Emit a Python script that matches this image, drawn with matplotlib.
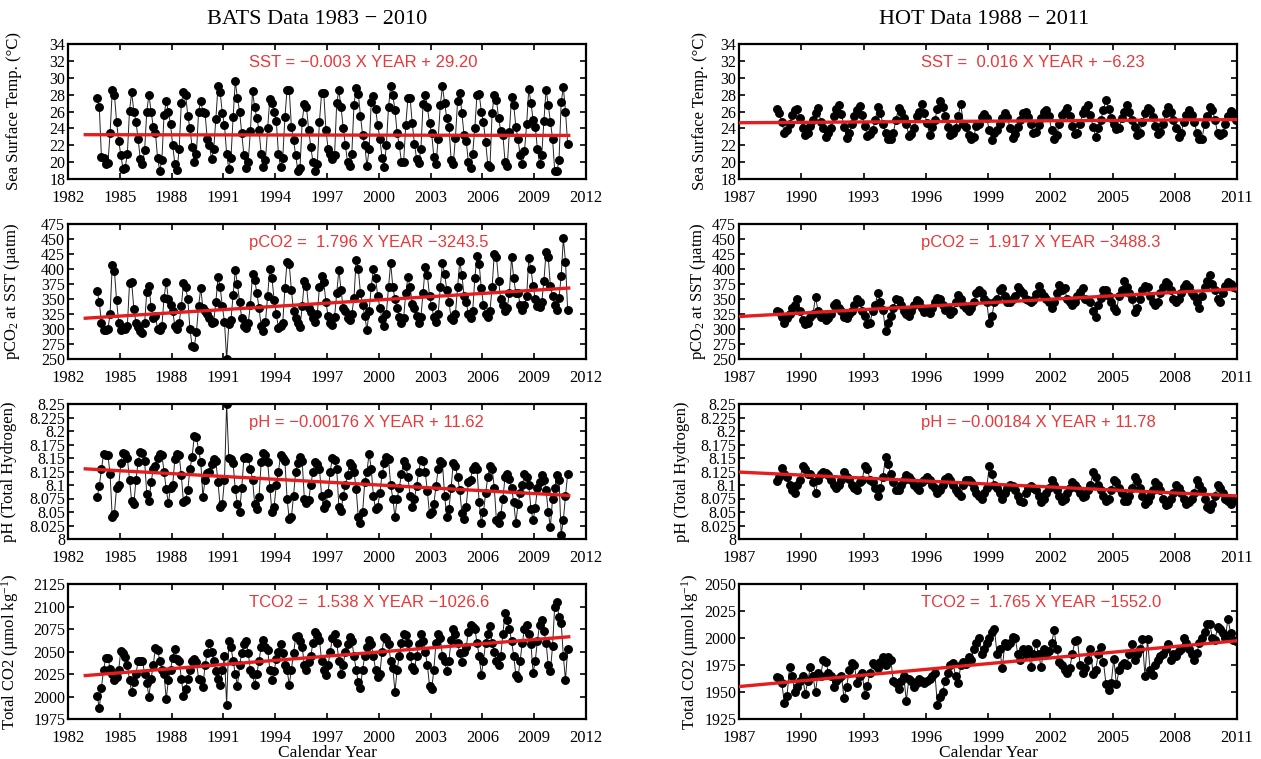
import numpy as np
import matplotlib
matplotlib.use("Agg")
import matplotlib.pyplot as plt
from matplotlib.ticker import MultipleLocator, FixedLocator, FuncFormatter

plt.rcParams['font.family'] = ['Liberation Serif', 'DejaVu Serif']
plt.rcParams['mathtext.fontset'] = 'custom'
plt.rcParams['mathtext.rm'] = 'Liberation Serif'
plt.rcParams['mathtext.it'] = 'Liberation Serif:italic'
plt.rcParams['axes.unicode_minus'] = True

# ---------------- BATS (8 samples per year; first year starts in late summer) ----------------
bats_first_year = 1983
bats_sst = [
    [27.6, 26.5, 20.6],
    [20.5, 19.8, 19.9, 23.4, 28.5, 28.0, 24.8, 22.5],
    [20.8, 19.2, 19.3, 21.0, 26.1, 28.3, 26.0, 24.8],
    [22.7, 20.4, 19.8, 21.4, 26.0, 28.0, 26.0, 24.2],
    [23.5, 20.5, 19.0, 20.3, 25.6, 27.2, 26.0, 24.5],
    [22.0, 19.8, 19.1, 21.5, 27.0, 28.3, 28.0, 25.5],
    [24.0, 21.8, 20.0, 21.0, 26.0, 27.2, 26.0, 25.8],
    [22.8, 22.0, 20.4, 21.5, 25.1, 29.0, 28.3, 25.8],
    [24.4, 21.0, 19.2, 20.5, 25.3, 29.6, 27.6, 26.0],
    [23.4, 20.8, 19.3, 20.0, 23.7, 28.4, 26.5, 25.2],
    [23.8, 21.0, 19.4, 20.3, 24.0, 27.5, 27.0, 26.0],
    [24.9, 21.0, 19.4, 20.5, 25.3, 28.6, 28.6, 24.2],
    [22.6, 20.8, 19.0, 19.3, 24.8, 26.9, 26.5, 23.8],
    [21.8, 20.0, 19.0, 19.8, 24.8, 28.2, 28.2, 23.8],
    [21.6, 21.0, 20.4, 20.8, 27.0, 28.5, 26.5, 24.1],
    [22.0, 20.0, 19.5, 21.0, 26.8, 28.8, 28.1, 25.5],
    [23.2, 22.0, 19.5, 21.5, 27.1, 27.8, 26.3, 24.4],
    [22.8, 20.5, 19.4, 22.0, 26.5, 29.0, 27.9, 26.2],
    [23.4, 22.0, 20.0, 20.0, 24.4, 27.6, 27.6, 24.6],
    [22.2, 20.4, 19.9, 21.5, 26.9, 28.0, 26.5, 24.6],
    [23.4, 20.6, 19.8, 22.7, 26.8, 29.0, 27.0, 25.2],
    [24.2, 20.3, 19.8, 22.9, 27.2, 28.2, 25.8, 23.2],
    [22.5, 20.0, 19.3, 21.0, 24.1, 28.0, 28.1, 26.0],
    [24.7, 22.4, 19.7, 19.4, 25.8, 28.0, 27.4, 25.2],
    [23.7, 23.2, 20.0, 19.5, 23.6, 27.7, 26.8, 24.2],
    [22.7, 20.8, 19.8, 21.3, 24.5, 28.7, 27.0, 25.0],
    [24.2, 21.5, 19.8, 20.9, 24.9, 28.6, 26.8, 24.8],
    [22.8, 19.0, 18.9, 20.2, 27.1, 28.9, 26.0, 22.2],
]
bats_pco2 = [
    [363, 345, 310],
    [299, 298, 300, 325, 407, 397, 348, 310],
    [298, 302, 300, 305, 376, 378, 334, 310],
    [303, 297, 293, 310, 362, 372, 337, 318],
    [322, 300, 298, 305, 352, 379, 350, 340],
    [330, 305, 300, 310, 338, 376, 370, 350],
    [300, 272, 270, 295, 338, 368, 335, 330],
    [325, 318, 310, 312, 345, 386, 370, 338],
    [312, 250, 308, 315, 356, 398, 375, 345],
    [318, 305, 302, 310, 340, 392, 382, 360],
    [335, 305, 296, 312, 355, 400, 385, 348],
    [325, 302, 305, 310, 368, 412, 408, 365],
    [330, 318, 310, 303, 338, 380, 372, 335],
    [328, 318, 312, 325, 370, 388, 378, 345],
    [322, 310, 306, 320, 360, 399, 365, 335],
    [330, 318, 315, 325, 352, 415, 400, 360],
    [340, 322, 298, 330, 370, 400, 385, 355],
    [335, 316, 305, 325, 370, 410, 370, 350],
    [335, 320, 310, 318, 360, 386, 370, 342],
    [335, 322, 310, 320, 360, 403, 390, 355],
    [338, 320, 312, 325, 370, 410, 392, 365],
    [345, 318, 315, 325, 370, 413, 390, 355],
    [345, 325, 318, 330, 385, 422, 408, 368],
    [340, 325, 320, 330, 370, 425, 420, 380],
    [350, 340, 330, 335, 360, 420, 385, 360],
    [360, 340, 332, 340, 355, 418, 400, 372],
    [350, 338, 336, 345, 380, 429, 420, 372],
    [355, 340, 332, 352, 388, 451, 412, 331],
]
bats_ph = [
    [8.078, 8.098, 8.130],
    [8.157, 8.156, 8.155, 8.120, 8.040, 8.047, 8.095, 8.100],
    [8.140, 8.160, 8.158, 8.150, 8.110, 8.070, 8.065, 8.110],
    [8.143, 8.162, 8.160, 8.145, 8.083, 8.070, 8.105, 8.130],
    [8.135, 8.150, 8.158, 8.155, 8.125, 8.093, 8.066, 8.095],
    [8.100, 8.148, 8.158, 8.155, 8.118, 8.068, 8.072, 8.090],
    [8.130, 8.152, 8.190, 8.188, 8.165, 8.143, 8.078, 8.110],
    [8.122, 8.125, 8.138, 8.148, 8.145, 8.105, 8.060, 8.065],
    [8.110, 8.250, 8.150, 8.148, 8.140, 8.092, 8.065, 8.050],
    [8.095, 8.150, 8.152, 8.150, 8.130, 8.110, 8.065, 8.055],
    [8.078, 8.142, 8.160, 8.155, 8.142, 8.095, 8.050, 8.060],
    [8.100, 8.125, 8.155, 8.150, 8.145, 8.075, 8.037, 8.040],
    [8.080, 8.125, 8.140, 8.152, 8.145, 8.075, 8.066, 8.072],
    [8.100, 8.125, 8.143, 8.138, 8.130, 8.080, 8.058, 8.065],
    [8.085, 8.125, 8.150, 8.146, 8.130, 8.060, 8.052, 8.080],
    [8.100, 8.118, 8.140, 8.135, 8.125, 8.093, 8.040, 8.030],
    [8.050, 8.105, 8.125, 8.158, 8.130, 8.080, 8.055, 8.060],
    [8.085, 8.120, 8.140, 8.152, 8.148, 8.100, 8.075, 8.040],
    [8.075, 8.095, 8.120, 8.145, 8.135, 8.115, 8.080, 8.060],
    [8.075, 8.098, 8.125, 8.147, 8.145, 8.125, 8.088, 8.046],
    [8.050, 8.065, 8.098, 8.130, 8.145, 8.140, 8.080, 8.040],
    [8.055, 8.095, 8.140, 8.135, 8.115, 8.090, 8.048, 8.037],
    [8.060, 8.105, 8.110, 8.130, 8.135, 8.130, 8.068, 8.030],
    [8.050, 8.085, 8.115, 8.135, 8.130, 8.095, 8.035, 8.030],
    [8.045, 8.075, 8.115, 8.120, 8.112, 8.095, 8.068, 8.030],
    [8.065, 8.085, 8.100, 8.120, 8.115, 8.100, 8.055, 8.035],
    [8.058, 8.095, 8.105, 8.118, 8.110, 8.090, 8.050, 8.022],
    [8.075, 8.095, 8.118, 8.110, 8.008, 8.035, 8.080, 8.120],
]
bats_tco2 = [
    [2001, 1987, 2010],
    [2030, 2043, 2043, 2031, 2025, 2018, 2022, 2030],
    [2051, 2048, 2044, 2035, 2018, 2005, 2016, 2025],
    [2040, 2040, 2040, 2025, 2015, 2000, 2020, 2035],
    [2054, 2052, 2040, 2030, 2025, 1997, 2018, 2030],
    [2043, 2053, 2042, 2040, 2020, 2001, 2008, 2020],
    [2030, 2040, 2042, 2038, 2020, 2018, 2011, 2035],
    [2048, 2060, 2050, 2040, 2028, 2020, 2013, 2030],
    [2045, 1991, 2062, 2055, 2040, 2025, 2012, 2035],
    [2048, 2058, 2062, 2048, 2030, 2025, 2013, 2025],
    [2040, 2055, 2063, 2055, 2052, 2030, 2018, 2028],
    [2042, 2050, 2058, 2048, 2035, 2030, 2013, 2030],
    [2048, 2066, 2067, 2062, 2055, 2035, 2030, 2038],
    [2045, 2060, 2072, 2068, 2063, 2040, 2030, 2024],
    [2035, 2050, 2065, 2070, 2060, 2040, 2025, 2035],
    [2050, 2058, 2066, 2062, 2045, 2030, 2016, 2010],
    [2030, 2045, 2055, 2063, 2058, 2045, 2030, 2022],
    [2025, 2050, 2066, 2064, 2058, 2040, 2032, 2005],
    [2030, 2045, 2060, 2070, 2068, 2060, 2045, 2033],
    [2030, 2045, 2058, 2070, 2062, 2050, 2035, 2012],
    [2008, 2030, 2060, 2069, 2065, 2045, 2040, 2028],
    [2040, 2063, 2075, 2070, 2060, 2048, 2038, 2050],
    [2055, 2072, 2080, 2077, 2075, 2060, 2045, 2024],
    [2040, 2060, 2070, 2078, 2060, 2050, 2040, 2035],
    [2045, 2070, 2093, 2085, 2075, 2062, 2045, 2024],
    [2021, 2040, 2060, 2075, 2080, 2070, 2058, 2026],
    [2040, 2062, 2080, 2085, 2073, 2060, 2035, 2028],
    [2056, 2100, 2105, 2088, 2082, 2045, 2018, 2053],
]

# ---------------- HOT (8 samples per year; first year starts in autumn) ----------------
hot_first_year = 1988
hot_sst = [
    [26.3, 25.8],
    [24.8, 23.4, 23.8, 24.5, 25.6, 26.2, 26.3, 25.2],
    [24.0, 23.2, 23.5, 24.3, 25.0, 25.8, 26.4, 24.8],
    [24.0, 23.0, 23.4, 24.0, 25.5, 26.3, 26.8, 25.7],
    [24.2, 22.9, 23.5, 24.5, 25.5, 26.2, 26.6, 25.6],
    [24.3, 23.1, 23.3, 23.8, 25.0, 26.5, 25.8, 24.5],
    [23.5, 22.7, 22.8, 23.5, 25.0, 26.4, 26.0, 25.2],
    [24.5, 23.1, 23.3, 24.0, 25.5, 26.0, 26.9, 25.8],
    [24.6, 23.2, 24.2, 25.0, 26.3, 27.3, 26.5, 25.5],
    [24.2, 23.2, 23.5, 24.0, 25.5, 26.9, 24.5, 24.2],
    [23.2, 22.8, 23.0, 24.3, 24.5, 25.3, 25.7, 25.2],
    [23.8, 22.6, 23.4, 23.8, 24.5, 25.2, 25.8, 25.3],
    [24.0, 22.9, 23.3, 24.2, 25.0, 25.8, 25.9, 25.3],
    [24.5, 23.5, 23.6, 24.4, 25.2, 26.0, 26.2, 25.5],
    [23.8, 22.8, 23.2, 24.5, 25.6, 26.0, 26.4, 25.5],
    [24.3, 23.3, 23.5, 24.5, 25.8, 26.3, 26.8, 25.6],
    [24.2, 23.0, 24.0, 25.0, 26.2, 27.4, 26.3, 25.2],
    [24.5, 23.9, 24.0, 25.2, 26.0, 26.8, 26.0, 25.0],
    [24.2, 23.2, 23.5, 24.8, 25.8, 26.4, 26.2, 25.3],
    [24.3, 23.3, 23.6, 24.5, 25.8, 26.5, 26.0, 25.0],
    [24.0, 23.0, 23.5, 24.8, 25.6, 26.2, 25.6, 24.8],
    [23.5, 22.8, 22.8, 24.5, 25.5, 26.5, 26.2, 25.0],
    [23.5, 23.2, 23.4, 24.5, 25.5, 26.1, 25.8, 25.0],
]
hot_pco2 = [
    [330, 328],
    [320, 310, 318, 325, 335, 340, 350, 330],
    [315, 308, 310, 320, 325, 353, 330, 320],
    [322, 315, 318, 325, 340, 343, 335, 330],
    [320, 318, 325, 330, 340, 350, 345, 330],
    [322, 308, 310, 330, 340, 360, 345, 332],
    [296, 310, 322, 335, 350, 348, 340, 330],
    [325, 322, 330, 340, 348, 345, 335, 328],
    [330, 326, 335, 345, 352, 350, 340, 332],
    [335, 325, 330, 345, 357, 350, 340, 335],
    [330, 335, 345, 360, 365, 360, 350, 345],
    [310, 322, 345, 350, 365, 368, 355, 345],
    [345, 350, 355, 370, 365, 360, 350, 348],
    [345, 348, 358, 372, 362, 355, 350, 345],
    [335, 345, 360, 373, 365, 368, 350, 345],
    [340, 345, 355, 362, 368, 350, 348, 345],
    [330, 320, 340, 352, 365, 365, 355, 345],
    [335, 330, 355, 365, 380, 370, 360, 350],
    [328, 335, 350, 365, 372, 370, 355, 345],
    [340, 345, 360, 370, 378, 375, 365, 350],
    [345, 350, 360, 370, 375, 370, 360, 355],
    [345, 335, 355, 370, 380, 390, 375, 365],
    [350, 345, 360, 372, 378, 375, 370, 368],
]
hot_ph = [
    [8.108, 8.115],
    [8.132, 8.120, 8.115, 8.100, 8.090, 8.085, 8.100, 8.110],
    [8.135, 8.130, 8.120, 8.120, 8.105, 8.085, 8.110, 8.120],
    [8.125, 8.122, 8.118, 8.110, 8.100, 8.095, 8.100, 8.110],
    [8.125, 8.115, 8.112, 8.100, 8.095, 8.090, 8.105, 8.110],
    [8.135, 8.130, 8.110, 8.105, 8.095, 8.080, 8.095, 8.115],
    [8.152, 8.138, 8.120, 8.105, 8.090, 8.090, 8.100, 8.110],
    [8.118, 8.115, 8.110, 8.100, 8.095, 8.090, 8.105, 8.110],
    [8.115, 8.110, 8.100, 8.095, 8.085, 8.090, 8.100, 8.112],
    [8.115, 8.110, 8.100, 8.090, 8.085, 8.080, 8.100, 8.110],
    [8.110, 8.105, 8.095, 8.085, 8.080, 8.075, 8.085, 8.095],
    [8.135, 8.120, 8.100, 8.095, 8.085, 8.075, 8.085, 8.095],
    [8.100, 8.098, 8.090, 8.080, 8.070, 8.068, 8.085, 8.095],
    [8.098, 8.095, 8.090, 8.080, 8.068, 8.075, 8.085, 8.095],
    [8.110, 8.100, 8.090, 8.080, 8.070, 8.075, 8.085, 8.095],
    [8.105, 8.100, 8.095, 8.085, 8.078, 8.080, 8.090, 8.100],
    [8.125, 8.115, 8.100, 8.090, 8.080, 8.070, 8.075, 8.090],
    [8.110, 8.105, 8.095, 8.085, 8.070, 8.070, 8.080, 8.095],
    [8.115, 8.108, 8.095, 8.080, 8.065, 8.070, 8.080, 8.090],
    [8.105, 8.100, 8.090, 8.075, 8.063, 8.065, 8.075, 8.085],
    [8.100, 8.095, 8.085, 8.075, 8.065, 8.068, 8.075, 8.085],
    [8.110, 8.100, 8.090, 8.075, 8.060, 8.055, 8.065, 8.080],
    [8.100, 8.095, 8.085, 8.075, 8.070, 8.065, 8.075, 8.072],
]
hot_tco2 = [
    [1964, 1963],
    [1958, 1940, 1946, 1973, 1965, 1950, 1955, 1960],
    [1965, 1948, 1960, 1973, 1965, 1950, 1968, 1965],
    [1980, 1978, 1968, 1965, 1955, 1960, 1963, 1965],
    [1944, 1955, 1970, 1977, 1975, 1958, 1965, 1968],
    [1947, 1956, 1968, 1977, 1975, 1972, 1978, 1982],
    [1975, 1982, 1980, 1960, 1958, 1953, 1960, 1965],
    [1942, 1962, 1960, 1955, 1958, 1962, 1960, 1958],
    [1960, 1962, 1965, 1968, 1938, 1945, 1950, 1960],
    [1968, 1975, 1977, 1965, 1958, 1975, 1978, 1976],
    [1982, 1980, 1990, 1995, 2000, 1985, 1990, 1995],
    [2000, 2006, 2008, 1985, 1990, 1972, 1995, 1993],
    [1995, 2001, 2000, 1985, 1980, 1990, 1985, 1990],
    [1973, 1985, 1995, 1985, 1973, 1990, 1985, 1988],
    [1995, 2007, 1990, 1978, 1975, 1970, 1968, 1972],
    [1985, 1997, 1998, 1975, 1968, 1972, 1980, 1990],
    [1967, 1970, 1985, 1992, 1978, 1957, 1952, 1958],
    [1981, 1957, 1970, 1975, 1977, 1975, 1985, 1994],
    [1980, 1985, 1990, 1999, 1965, 1999, 1970, 1966],
    [1975, 1980, 1983, 1985, 1990, 1994, 1980, 1985],
    [1983, 1988, 1990, 2000, 1995, 1990, 1985, 1980],
    [1986, 1995, 2000, 2006, 2013, 2013, 2000, 1998],
    [2010, 2008, 2005, 2000, 2018, 2005, 1998, 1997],
]

# Linear trends (slope per year, intercept)
bats_fits = {'sst': (-0.003, 29.20), 'pco2': (1.796, -3243.5),
             'ph': (-0.00176, 11.62), 'tco2': (1.538, -1026.6)}
hot_fits = {'sst': (0.01555, -6.23), 'pco2': (1.917, -3488.3),
            'ph': (-0.00184, 11.78), 'tco2': (1.765, -1552.0)}

eq_formats = {'sst': 'SST = {: .3f} X YEAR + {:.2f}',
              'pco2': 'pCO2 = {: .3f} X YEAR {:.1f}',
              'ph': 'pH = {: .5f} X YEAR + {:.2f}',
              'tco2': 'TCO2 = {: .3f} X YEAR {:.1f}'}

ylabels = {'sst': 'Sea Surface Temp. (\u00b0C)',
           'pco2': 'pCO$_2$ at SST (\u00b5atm)',
           'ph': 'pH (Total Hydrogen)',
           'tco2': 'Total CO2 (\u00b5mol kg$^{-1}$)'}

# horizontal position (figure pixels) of the centre of each y-axis title
ylabel_px = {'bats': {'sst': 22, 'pco2': 22, 'ph': 17, 'tco2': 21},
             'hot': {'sst': 708, 'pco2': 708, 'ph': 690, 'tco2': 701}}


def flatten(first_year, yearly):
    t, v = [], []
    for i, vals in enumerate(yearly):
        n = len(vals)
        for k, val in enumerate(vals):
            t.append(first_year + i + (8 - n + k) / 8 + 1 / 16)
            v.append(val)
    return np.array(t), np.array(v)


def ph_fmt(x, pos):
    return '{:g}'.format(round(x, 3))


W, H = 1261, 759
fig = plt.figure(figsize=(W / 100, H / 100), dpi=100)

col_x = {'bats': (68, 586), 'hot': (739, 1237)}
rows = [(44, 179), (224, 359), (404, 539), (584, 719)]
keys = ['sst', 'pco2', 'ph', 'tco2']

ylims = {'bats': {'sst': (18, 34, 2), 'pco2': (250, 475, 25), 'ph': (8, 8.25, 0.025), 'tco2': (1975, 2125, 25)},
         'hot': {'sst': (18, 34, 2), 'pco2': (250, 475, 25), 'ph': (8, 8.25, 0.025), 'tco2': (1925, 2050, 25)}}
xlims = {'bats': (1982, 2012), 'hot': (1987, 2011)}
fit_span = {'bats': (1983, 2011), 'hot': (1987, 2011)}
series = {'bats': (bats_first_year, {'sst': bats_sst, 'pco2': bats_pco2, 'ph': bats_ph, 'tco2': bats_tco2}),
          'hot': (hot_first_year, {'sst': hot_sst, 'pco2': hot_pco2, 'ph': hot_ph, 'tco2': hot_tco2})}
fits = {'bats': bats_fits, 'hot': hot_fits}
eq_x = {'bats': 0.35, 'hot': 0.365}

red_line = '#e41e1e'
red_text = '#e8383a'

for site in ['bats', 'hot']:
    x0, x1 = col_x[site]
    first_year, data = series[site]
    for r, key in enumerate(keys):
        top, bot = rows[r]
        ax = fig.add_axes([x0 / W, 1 - bot / H, (x1 - x0) / W, (bot - top) / H])
        t, v = flatten(first_year, data[key])
        ax.plot(t, v, '-', color='#222222', lw=0.7, zorder=2)
        ax.plot(t, v, 'o', color='black', ms=5.4, mec='black', zorder=3)
        m, b = fits[site][key]
        xs = np.array(fit_span[site], dtype=float)
        ax.plot(xs, m * xs + b, '-', color=red_line, lw=2.4, zorder=4)
        label = eq_formats[key].format(m, b).replace('-', '\u2212')
        ax.text(eq_x[site], 0.86, label, transform=ax.transAxes, color=red_text,
                fontsize=12, family=['Liberation Sans', 'DejaVu Sans'], va='center', ha='left')
        lo, hi, step = ylims[site][key]
        ax.set_ylim(lo, hi)
        ax.yaxis.set_major_locator(MultipleLocator(step))
        if key == 'ph':
            ax.yaxis.set_major_formatter(FuncFormatter(ph_fmt))
        xa, xb = xlims[site]
        ax.set_xlim(xa, xb)
        ax.xaxis.set_major_locator(FixedLocator(np.arange(xa, xb + 1, 3)))
        ax.tick_params(direction='in', top=True, right=True, length=4, width=1.2)
        ax.tick_params(axis='y', pad=2, labelsize=11.5)
        ax.tick_params(axis='x', pad=8, labelsize=12)
        for s in ax.spines.values():
            s.set_linewidth(1.6)
        ax.set_ylabel(ylabels[key], fontsize=12)
        ax.yaxis.set_label_coords((ylabel_px[site][key] - x0) / (x1 - x0), 0.5)
        if r == 3:
            ax.set_xlabel('Calendar Year', fontsize=12.5, labelpad=-1)

fig.text(317 / W, 1 - 20 / H, 'BATS Data 1983 \u2212 2010', ha='center', va='center', fontsize=16)
fig.text(984 / W, 1 - 20 / H, 'HOT Data 1988 \u2212 2011', ha='center', va='center', fontsize=16)

fig.savefig('out.png', dpi=100)
